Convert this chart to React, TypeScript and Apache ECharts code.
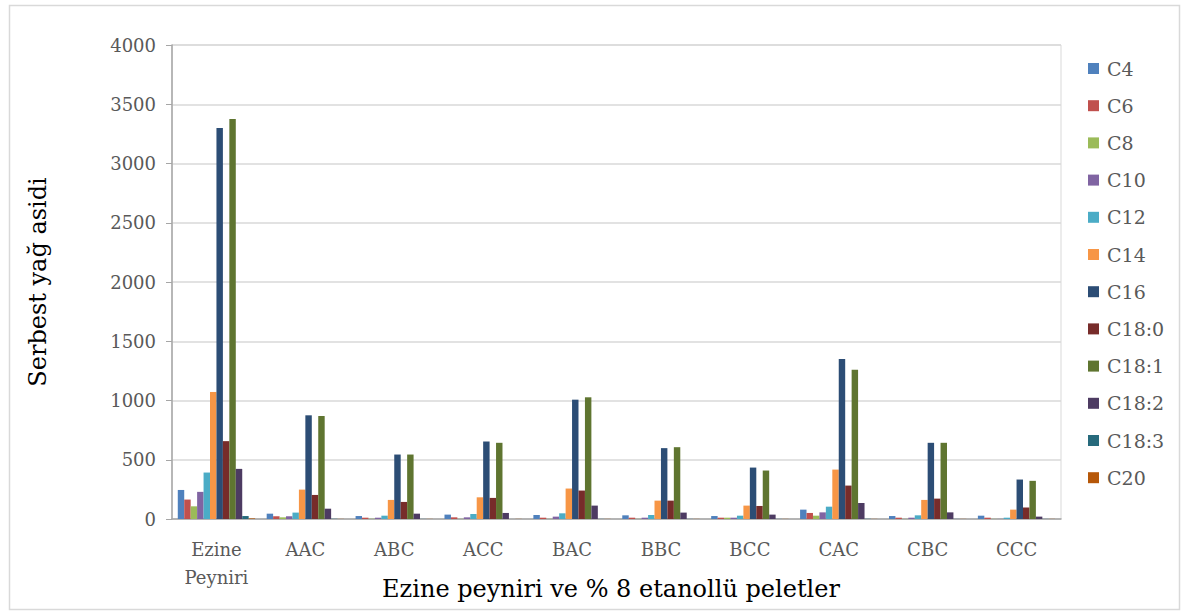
import React, { useEffect, useRef } from "react";
import * as echarts from "echarts";

const categories = ["Ezine\nPeyniri", "AAC", "ABC", "ACC", "BAC", "BBC", "BCC", "CAC", "CBC", "CCC"];

const seriesNames = ["C4", "C6", "C8", "C10", "C12", "C14", "C16", "C18:0", "C18:1", "C18:2", "C18:3", "C20"];

const colors = [
  "#4f81bd", "#c0504d", "#9bbb59", "#8064a2", "#4bacc6", "#f79646",
  "#2c4d75", "#772c2a", "#5f7530", "#4d3b62", "#276a7c", "#b65708",
];

// values per fatty acid, one per sample in category order
const c4 = [245, 45, 25, 37, 34, 31, 25, 79, 25, 28];
const c6 = [164, 23, 11, 14, 11, 11, 11, 51, 11, 11];
const c8 = [107, 14, 2, 1, 1, 1, 11, 28, 1, 1];
const c10 = [229, 23, 11, 14, 20, 11, 11, 56, 11, 1];
const c12 = [392, 54, 28, 42, 48, 34, 28, 104, 31, 11];
const c14 = [1072, 248, 161, 183, 257, 155, 113, 417, 161, 79];
const c16 = [3300, 875, 544, 654, 1007, 598, 434, 1350, 643, 333];
const c18_0 = [657, 203, 144, 178, 240, 155, 110, 282, 172, 96];
const c18_1 = [3375, 869, 544, 643, 1027, 606, 409, 1260, 643, 322];
const c18_2 = [423, 87, 45, 51, 113, 54, 37, 135, 56, 20];
const c18_3 = [25, 2, 1, 1, 1, 1, 1, 2, 1, 1];
const c20 = [5, 1, 1, 1, 1, 1, 1, 1, 1, 1];

const seriesValues = [c4, c6, c8, c10, c12, c14, c16, c18_0, c18_1, c18_2, c18_3, c20];

const yTicks = { min: 0, max: 4000, interval: 500 };

const xTitle = "Ezine peyniri ve % 8 etanollü peletler";
const yTitle = "Serbest yağ asidi";

const FONT = "'DejaVu Serif', 'Liberation Serif', serif";
const TEXT = "#595959";

export default function App() {
  const ref = useRef<HTMLDivElement>(null);

  useEffect(() => {
    if (!ref.current) return;
    const chart = echarts.init(ref.current, null, { renderer: "svg" });
    chart.setOption({
      animation: false,
      backgroundColor: "#ffffff",
      textStyle: { fontFamily: FONT },
      graphic: [
        {
          type: "rect",
          shape: { x: 9.5, y: 5.5, width: 1170, height: 604 },
          style: { fill: "none", stroke: "#d9d9d9", lineWidth: 1.5 },
          silent: true,
        },
        {
          type: "text",
          x: 611,
          y: 589,
          style: {
            text: xTitle,
            font: `24px ${FONT}`,
            fill: "#000000",
            align: "center",
            verticalAlign: "middle",
          },
          silent: true,
        },
      ],
      grid: {
        left: 172,
        right: 124,
        top: 45,
        bottom: 95,
        outerBoundsMode: "none",
        containLabel: false,
        show: true,
        borderColor: "#d9d9d9",
        borderWidth: 1,
      },
      legend: {
        orient: "vertical",
        left: 1083,
        top: 54,
        itemWidth: 11,
        itemHeight: 11,
        itemGap: 18.2,
        icon: "rect",
        data: seriesNames,
        textStyle: { fontFamily: FONT, fontSize: 19, color: TEXT, padding: [0, 0, 0, 3] },
      },
      xAxis: {
        type: "category",
        data: categories,
        axisLine: { lineStyle: { color: "#a6a6a6", width: 1.5 } },
        axisTick: { show: false },
        axisLabel: { fontFamily: FONT, fontSize: 18, color: TEXT, margin: 16, lineHeight: 28 },
      },
      yAxis: {
        type: "value",
        min: yTicks.min,
        max: yTicks.max,
        interval: yTicks.interval,
        name: yTitle,
        nameLocation: "middle",
        nameGap: 122,
        nameTextStyle: { fontFamily: FONT, fontSize: 24, color: "#000000" },
        axisLine: { show: true, lineStyle: { color: "#a6a6a6", width: 1.5 } },
        axisTick: { show: true, length: 6, lineStyle: { color: "#a6a6a6" } },
        axisLabel: { fontFamily: FONT, fontSize: 18, color: TEXT, margin: 16, formatter: (v: number) => String(v) },
        splitLine: { lineStyle: { color: "#d9d9d9", width: 1.5 } },
      },
      series: seriesNames.map((name, i) => ({
        name,
        type: "bar",
        data: seriesValues[i],
        barGap: "0%",
        barCategoryGap: "13%",
        itemStyle: { color: colors[i] },
      })),
    });
    return () => chart.dispose();
  }, []);

  return (
    <div
      ref={ref}
      style={{ position: "absolute", left: 0, top: 0, width: 1185, height: 614 }}
    />
  );
}
